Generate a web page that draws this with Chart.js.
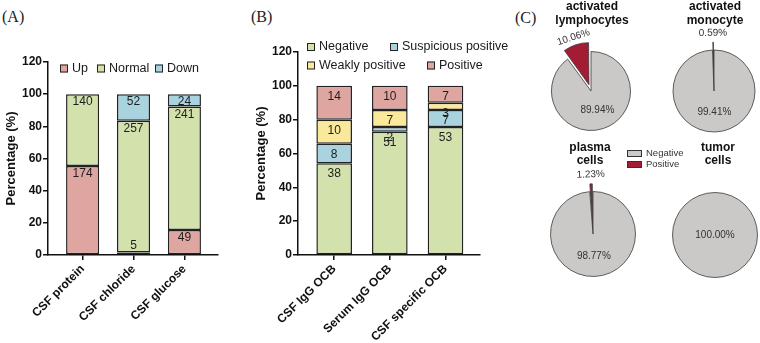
<!DOCTYPE html>
<html>
<head>
<meta charset="utf-8">
<title>CSF findings</title>
<script src="https://cdn.jsdelivr.net/npm/chart.js@4.4.1/dist/chart.umd.min.js"></script>
<style>
  body { margin: 0; background: #fff; }
  #fig { position: relative; width: 760px; height: 343px; overflow: hidden; font-family: "Liberation Sans", Arial, sans-serif; color: #111; }
  #fig canvas { position: absolute; }
  .panel { position: absolute; font-family: "Liberation Serif", "Times New Roman", serif; font-size: 16px; line-height: 16px; color: #222; }
  .pie-title { position: absolute; width: 110px; margin-left: -55px; text-align: center; font-weight: bold; font-size: 12px; line-height: 13.5px; color: #111; }
  .leg-c { position: absolute; left: 627px; font-size: 9.5px; line-height: 11px; color: #333; white-space: nowrap; }
  .leg-c .box { display: inline-block; width: 13px; height: 5px; border: 1px solid #333; margin-right: 4px; vertical-align: middle; }
</style>
</head>
<body>
<div id="fig">
  <div class="panel" style="left:2px; top:9px">(A)</div>
  <div class="panel" style="left:251px; top:9px">(B)</div>
  <div class="panel" style="left:515px; top:10px">(C)</div>

  <canvas id="chart-a" width="250" height="343" style="left:0; top:0"></canvas>
  <canvas id="chart-b" width="265" height="343" style="left:250px; top:0"></canvas>

  <canvas id="pie-0" width="150" height="150" style="left:516px; top:16px"></canvas>
  <canvas id="pie-1" width="150" height="150" style="left:639px; top:16px"></canvas>
  <canvas id="pie-2" width="150" height="150" style="left:518px; top:159px"></canvas>
  <canvas id="pie-3" width="150" height="150" style="left:640px; top:160px"></canvas>

  <div id="pie-titles"></div>
  <div class="leg-c" style="top:147px"><span class="box" style="background:#cbc9c7"></span>Negative</div>
  <div class="leg-c" style="top:158px"><span class="box" style="background:#a41b34"></span>Positive</div>
</div>

<script>
// --- Data ---
const yTicks = [0, 20, 40, 60, 80, 100, 120];

// Panel A: counts per category (Up / Normal / Down)
const catsA = ['CSF protein', 'CSF chloride', 'CSF glucose'];
const upA = [174, 5, 49];
const normalA = [140, 257, 241];
const downA = [0, 52, 24];

// Panel B: counts per OCB test
const catsB = ['CSF IgG OCB', 'Serum IgG OCB', 'CSF specific OCB'];
const negB = [38, 51, 53];
const suspB = [8, 2, 7];
const weakB = [10, 7, 3];
const posB = [14, 10, 7];

// Panel C: percentage positive / negative
const pieTitles = [['activated', 'lymphocytes'], ['activated', 'monocyte'], ['plasma', 'cells'], ['tumor', 'cells']];
const piePositive = [10.06, 0.59, 1.23, 0];
const pieNegative = [89.94, 99.41, 98.77, 100];

// --- Colours ---
const PINK = '#dfa6a1';
const GREEN = '#d3e1ad';
const BLUE = '#a9d3df';
const YELLOW = '#fbe99b';
const GREY = '#cbc9c7';
const RED = '#a41b34';
const EDGE = '#222';
const PIE_EDGE = '#3a3a3a';

Chart.defaults.font.family = '"Liberation Sans", Arial, sans-serif';
Chart.defaults.color = '#111';

// --- Helpers ---
function toPercent(series, all) {
    return series.map((n, i) => {
        const total = all.reduce((s, arr) => s + arr[i], 0);
        return n ? { x: i, y: n / total * 100 } : { x: i, y: null };
    });
}

function barDataset(label, counts, all, color) {
    return {
        label,
        counts,
        data: toPercent(counts, all),
        backgroundColor: color,
        borderColor: EDGE,
        borderWidth: 1.5,
        borderSkipped: false,
        categoryPercentage: 1,
    };
}

// count labels written inside each segment
const countLabels = {
    id: 'countLabels',
    afterDatasetsDraw(chart, args, opts) {
        const ctx = chart.ctx;
        const zeroY = chart.scales.y.getPixelForValue(0);
        ctx.save();
        ctx.font = '12px "Liberation Sans", Arial, sans-serif';
        ctx.fillStyle = '#1e1e1e';
        ctx.textAlign = 'center';
        ctx.textBaseline = 'middle';
        chart.data.datasets.forEach((ds, di) => {
            chart.getDatasetMeta(di).data.forEach((bar, i) => {
                const n = ds.counts[i];
                if (!n) return;
                let y = bar.y + opts.drop;
                if (y + 6 > zeroY) y = bar.y - 7;
                ctx.fillText(String(n), bar.x, y);
            });
        });
        ctx.restore();
    }
};

// small square legend drawn at fixed spots
const boxLegend = {
    id: 'boxLegend',
    afterDraw(chart, args, opts) {
        const ctx = chart.ctx;
        ctx.save();
        ctx.font = '12.5px "Liberation Sans", Arial, sans-serif';
        ctx.textBaseline = 'middle';
        ctx.textAlign = 'left';
        chart.data.datasets.forEach((ds, i) => {
            const [x, y] = opts.spots[i];
            ctx.fillStyle = ds.backgroundColor;
            ctx.fillRect(x, y - 4, 8, 8);
            ctx.strokeStyle = '#222';
            ctx.lineWidth = 1;
            ctx.strokeRect(x + 0.5, y - 3.5, 7, 7);
            ctx.fillStyle = '#1a1a1a';
            ctx.fillText(ds.label, x + 12, y);
        });
        ctx.restore();
    }
};

function makeBarChart(id, cats, datasets, cfg) {
    return new Chart(document.getElementById(id), {
        type: 'bar',
        data: { datasets },
        plugins: [countLabels, boxLegend],
        options: {
            responsive: false,
            animation: false,
            events: [],
            barPercentage: cfg.barPct,
            layout: { padding: { top: cfg.top, right: cfg.right, left: 0, bottom: 0 } },
            plugins: {
                legend: { display: false },
                tooltip: { enabled: false },
                countLabels: { drop: cfg.drop },
                boxLegend: { spots: cfg.spots }
            },
            scales: {
                x: {
                    type: 'linear',
                    stacked: true,
                    offset: false,
                    min: cfg.xMin,
                    max: cfg.xMax,
                    afterBuildTicks: s => { s.ticks = cats.map((c, i) => ({ value: i })); },
                    afterFit: s => { s.height = 343 - 255; },
                    ticks: {
                        callback: v => cats[v],
                        minRotation: 45,
                        maxRotation: 45,
                        padding: 2,
                        color: '#111',
                        font: { size: 12, weight: 'bold' }
                    },
                    grid: { offset: false, drawOnChartArea: false, tickLength: 5, color: '#111', lineWidth: 1.5 },
                    border: { color: '#111', width: 1.5 }
                },
                y: {
                    stacked: true,
                    min: 0,
                    max: 120,
                    afterBuildTicks: s => { s.ticks = yTicks.map(v => ({ value: v })); },
                    afterFit: s => { s.width = 48; },
                    ticks: { padding: 1, color: '#111', font: { size: 12, weight: 'bold' } },
                    grid: { drawOnChartArea: false, tickLength: 5, color: '#111', lineWidth: 1.5 },
                    border: { color: '#111', width: 1.5 },
                    title: {
                        display: true,
                        text: 'Percentage (%)',
                        color: '#111',
                        padding: { top: 4, bottom: 0 },
                        font: { size: 13, weight: 'bold' }
                    }
                }
            }
        }
    });
}

// --- Panel A ---
const allA = [upA, normalA, downA];
makeBarChart('chart-a', catsA, [
    barDataset('Up', upA, allA, PINK),
    barDataset('Normal', normalA, allA, GREEN),
    barDataset('Down', downA, allA, BLUE)
], {
    top: 62, right: 32, xMin: -0.68, xMax: 2.66, barPct: 0.65, drop: 8,
    spots: [[60, 68.5], [97, 68.5], [155, 68.5]]
});

// --- Panel B ---
const allB = [negB, suspB, weakB, posB];
makeBarChart('chart-b', catsB, [
    barDataset('Negative', negB, allB, GREEN),
    barDataset('Suspicious positive', suspB, allB, BLUE),
    barDataset('Weakly positive', weakB, allB, YELLOW),
    barDataset('Positive', posB, allB, PINK)
], {
    top: 52, right: 35, xMin: -0.65, xMax: 2.62, barPct: 0.64, drop: 11,
    spots: [[57, 47], [140, 47], [57, 65.5], [177, 65.5]]
});

// --- Panel C ---
const pieLabels = {
    id: 'pieLabels',
    afterDatasetsDraw(chart) {
        const ctx = chart.ctx;
        const vals = chart.data.datasets[0].data;
        ctx.save();
        ctx.font = '10px "Liberation Sans", Arial, sans-serif';
        ctx.textAlign = 'center';
        ctx.textBaseline = 'middle';
        chart.getDatasetMeta(0).data.forEach((arc, i) => {
            const v = vals[i];
            if (!v) return;
            const txt = v.toFixed(2) + '%';
            const mid = (arc.startAngle + arc.endAngle) / 2;
            ctx.fillStyle = '#333';
            if (v >= 100) {
                // whole circle: outline only, no radial edge
                ctx.beginPath();
                ctx.arc(arc.x, arc.y, arc.outerRadius, 0, Math.PI * 2);
                ctx.strokeStyle = PIE_EDGE;
                ctx.lineWidth = 0.8;
                ctx.stroke();
                ctx.fillText(txt, arc.x, arc.y);
            } else if (i === 0) {
                const r = arc.outerRadius + 17;
                ctx.save();
                ctx.translate(arc.x + Math.cos(mid) * r, arc.y + Math.sin(mid) * r);
                ctx.rotate(mid + Math.PI / 2);
                ctx.fillText(txt, 0, 0);
                ctx.restore();
            } else {
                const r = arc.outerRadius * 0.52;
                ctx.fillText(txt, arc.x + Math.cos(mid) * r, arc.y + Math.sin(mid) * r);
            }
        });
        ctx.restore();
    }
};

const pieRadius = [39.5, 41, 42.5, 42.5];
const titleSpots = [[592, 0], [715, 0], [590, 140.5], [718, 140.5]];
const $titles = document.getElementById('pie-titles');

piePositive.forEach((pos, k) => {
    new Chart(document.getElementById('pie-' + k), {
        type: 'pie',
        data: {
            labels: ['Positive', 'Negative'],
            datasets: [{
                data: [pos, pieNegative[k]],
                backgroundColor: [RED, GREY],
                borderColor: PIE_EDGE,
                borderWidth: c => (c.raw >= 100 ? 0 : 0.8),
                // chart.js moves an arc by offset / 4
                offset: c => (c.dataIndex !== 0 ? 0 : (c.raw > 5 ? 26 : 16))
            }]
        },
        plugins: [pieLabels],
        options: {
            responsive: false,
            animation: false,
            events: [],
            radius: pieRadius[k],
            rotation: -pos * 3.6,
            plugins: { legend: { display: false }, tooltip: { enabled: false } }
        }
    });

    const div = document.createElement('div');
    div.className = 'pie-title';
    div.style.left = titleSpots[k][0] + 'px';
    div.style.top = titleSpots[k][1] + 'px';
    div.innerHTML = pieTitles[k].join('<br>');
    $titles.appendChild(div);
});
</script>
</body>
</html>
